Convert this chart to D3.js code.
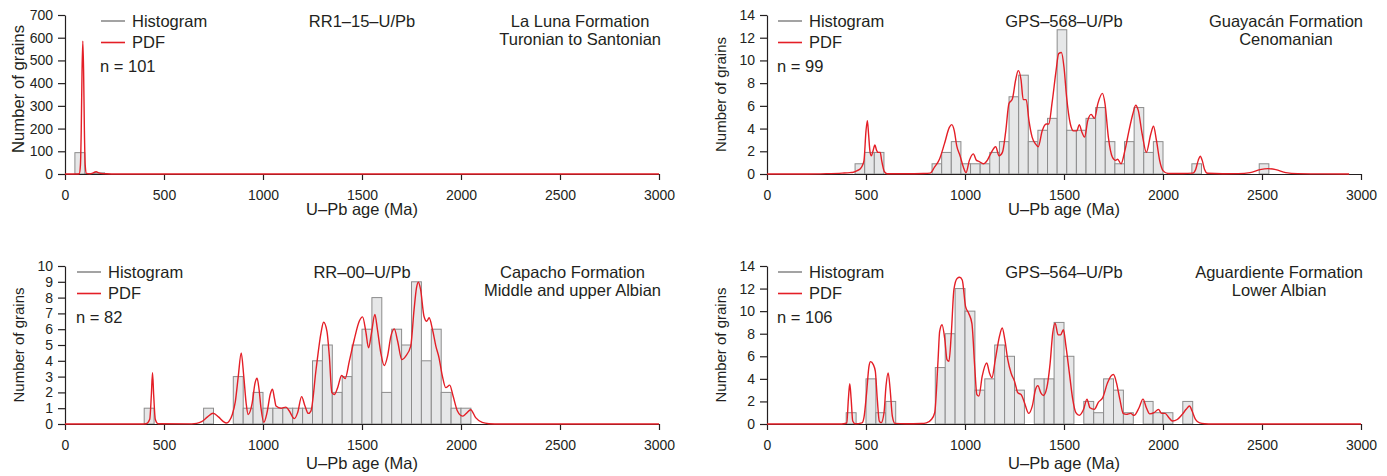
<!DOCTYPE html>
<html>
<head>
<meta charset="utf-8">
<script src="https://cdn.jsdelivr.net/npm/d3@7"></script>
<style>
body { margin: 0; background: #fff; }
text { font-family: "Liberation Sans", Arial, Helvetica, sans-serif; fill: #231f20; }
</style>
</head>
<body>
<script>
// age axis, shared by every panel
const ageTicks = [0, 500, 1000, 1500, 2000, 2500, 3000]

// RR1-15, La Luna Formation
const rr115Ticks = [0, 100, 200, 300, 400, 500, 600, 700]
const rr115BinStart = 50
const rr115BinWidth = 50
const rr115Counts = [94, 2, 5]
const rr115Pdf = [[0, 0], [60, 0], [72, 1], [78, 40], [82, 190], [86, 450], [90, 585], [94, 450], [98, 190], [102, 40], [108, 3],
    [125, 1], [140, 4], [152, 9], [158, 10], [166, 7], [180, 3], [210, 1], [260, 0], [3000, 0]]

// GPS-568, Guayacan Formation (bar heights as they sit on the printed axis)
const gps568Ticks = [0, 2, 4, 6, 8, 10, 12, 14]
const gps568BinStart = 444.8
const gps568BinWidth = 48.6
const gps568Counts = [0.9, 1.9, 1.9, 0, 0, 0, 0, 0, 0.9, 1.9, 2.85, 0.9, 0.9, 0.9, 1.9, 2.85, 6.8, 8.7, 2.85, 3.85, 4.9, 12.7,
    3.85, 3.85, 4.9, 5.85, 2.85, 0.9, 2.85, 5.85, 1.9, 2.85, 0, 0, 0, 0.9, 0, 0, 0, 0, 0, 0, 0.9]
const gps568Pdf = [[0, 0], [200, 0], [300, 0.03], [380, 0.08], [420, 0.12], [436, 0.15], [455, 0.3], [470, 0.44], [483, 0.8],
    [490, 1.2], [500, 3.8], [507, 4.7], [513, 3.5], [520, 2.0], [527, 1.6], [535, 2.0], [545, 2.55], [553, 2.1], [562, 1.9],
    [572, 1.9], [579, 1.2], [586, 0.6], [592, 0.24], [607, 0.02], [700, 0.02], [790, 0.04], [824, 0.08], [846, 0.6],
    [871, 1.3], [896, 2.65], [921, 4.1], [933, 4.35], [946, 3.8], [958, 2.5], [975, 1.6], [992, 0.6], [1005, 0.12],
    [1022, 1.2], [1042, 1.77], [1058, 1.2], [1072, 1.1], [1092, 0.9], [1114, 1.25], [1130, 1.8], [1155, 2.4], [1172, 1.6],
    [1189, 1.9], [1206, 3.8], [1222, 6.2], [1239, 6.6], [1256, 8.3], [1269, 9.1], [1283, 8.3], [1294, 6.55], [1309, 6.55],
    [1323, 4.7], [1339, 3.25], [1356, 2.65], [1370, 2.4], [1390, 3.8], [1410, 4.4], [1423, 4.4], [1440, 6.3], [1460, 9.1],
    [1473, 10.6], [1487, 10.7], [1500, 9.4], [1513, 6.8], [1532, 4.4], [1548, 3.8], [1565, 3.8], [1577, 4.35], [1590, 3.7],
    [1604, 3.25], [1620, 4.7], [1637, 5.25], [1654, 4.9], [1671, 6.2], [1694, 7.1], [1707, 6.2], [1724, 3.25], [1744, 1.5],
    [1761, 1.2], [1771, 1.3], [1788, 0.9], [1808, 2.1], [1828, 3.8], [1848, 5.3], [1862, 6.05], [1875, 5.6], [1895, 3.5],
    [1916, 1.9], [1938, 3.5], [1952, 4.2], [1967, 2.95], [1983, 1.2], [2000, 0.3], [2025, 0.05], [2100, 0.04], [2150, 0.08],
    [2165, 0.4], [2178, 1.2], [2188, 1.56], [2198, 1.2], [2210, 0.4], [2225, 0.06], [2300, 0.02], [2380, 0.03], [2440, 0.12],
    [2490, 0.38], [2530, 0.47], [2570, 0.38], [2620, 0.12], [2680, 0.03], [2800, 0.01], [2940, 0]]

// RR-00, Capacho Formation
const rr00Ticks = [0, 1, 2, 3, 4, 5, 6, 7, 8, 9, 10]
const rr00BinStart = 400
const rr00BinWidth = 50
const rr00Counts = [1, 0, 0, 0, 0, 0, 1, 0, 0, 3, 1, 2, 1, 1, 1, 1, 1, 4, 5, 2, 3, 5, 6, 8, 2, 6, 5, 9, 4, 6, 2, 1, 1]
const rr00Pdf = [[0, 0], [380, 0], [410, 0.02], [428, 0.3], [436, 1.8], [442, 3.25], [448, 1.8], [456, 0.3], [470, 0.02],
    [640, 0.01], [665, 0.04], [690, 0.15], [720, 0.45], [748, 0.68], [775, 0.45], [800, 0.15], [815, 0.06], [830, 0.2],
    [845, 0.6], [860, 1.4], [875, 3.0], [890, 4.5], [903, 3.0], [915, 1.3], [925, 0.6], [945, 1.3], [960, 2.6], [970, 2.9],
    [980, 2.2], [990, 1.0], [1004, 0.1], [1020, 0.7], [1037, 1.9], [1048, 2.2], [1058, 1.6], [1066, 1.14], [1091, 1.0],
    [1116, 1.07], [1133, 0.82], [1158, 0.34], [1175, 0.72], [1195, 1.73], [1212, 1.14], [1229, 0.67], [1242, 0.82],
    [1268, 3.45], [1293, 5.77], [1306, 6.44], [1323, 5.87], [1335, 4.3], [1348, 1.98], [1360, 1.87], [1377, 2.3],
    [1397, 3.07], [1415, 2.88], [1436, 3.98], [1461, 5.35], [1486, 6.5], [1503, 6.78], [1519, 5.87], [1533, 4.82],
    [1548, 5.77], [1565, 6.93], [1578, 5.98], [1595, 4.5], [1612, 3.7], [1629, 4.3], [1646, 5.56], [1663, 6.02], [1680, 5.24],
    [1701, 4.08], [1721, 4.3], [1746, 4.93], [1763, 7.24], [1775, 8.6], [1785, 8.97], [1796, 8.5], [1813, 6.82], [1827, 6.5],
    [1839, 6.72], [1856, 5.98], [1873, 4.93], [1889, 4.19], [1906, 3.03], [1923, 2.3], [1943, 2.46], [1960, 1.77],
    [1982, 0.82], [2007, 0.5], [2027, 0.67], [2049, 0.9], [2074, 0.4], [2107, 0.1], [2141, 0.02], [2200, 0], [3000, 0]]

// GPS-564, Aguardiente Formation
const gps564Ticks = [0, 2, 4, 6, 8, 10, 12, 14]
const gps564BinStart = 400
const gps564BinWidth = 50
const gps564Counts = [1, 0, 4, 1, 2, 0, 0, 0, 0, 5, 8, 12, 10, 3, 4, 7, 6, 3, 0, 4, 4, 9, 6, 0, 2, 1, 4, 3, 1, 0, 2, 1, 1, 0, 2]
const gps564Pdf = [[0, 0], [360, 0], [395, 0.05], [403, 0.1], [411, 2.2], [418, 3.56], [425, 2.2], [433, 0.26], [445, 0.02],
    [480, 0.1], [490, 0.6], [503, 2.76], [515, 5.1], [523, 5.53], [537, 5.26], [547, 4.68], [557, 2.2], [567, 0.26],
    [577, 0.12], [591, 1.0], [601, 3.35], [612, 4.53], [622, 3.06], [633, 0.7], [646, 0.06], [700, 0.02], [780, 0.04],
    [805, 0.1], [830, 0.4], [847, 1.0], [864, 5.7], [872, 8.2], [884, 8.8], [898, 7.5], [909, 5.7], [919, 5.56], [931, 8.06],
    [944, 11.9], [960, 12.9], [973, 13.0], [986, 12.76], [1003, 10.4], [1019, 9.8], [1035, 8.9], [1049, 5.1], [1060, 2.6],
    [1070, 2.47], [1087, 4.24], [1110, 5.4], [1124, 4.5], [1136, 4.1], [1153, 5.7], [1174, 7.76], [1188, 8.5], [1201, 7.5],
    [1216, 5.7], [1233, 4.5], [1250, 3.8], [1267, 2.76], [1284, 2.6], [1300, 1.9], [1322, 0.94], [1340, 1.6], [1356, 3.06],
    [1368, 3.4], [1383, 2.76], [1396, 2.53], [1413, 3.2], [1430, 5.4], [1443, 8.06], [1455, 8.94], [1470, 7.9], [1483, 7.9],
    [1497, 8.35], [1510, 6.88], [1527, 4.53], [1544, 2.2], [1560, 1.0], [1577, 0.76], [1599, 1.3], [1616, 2.2], [1631, 1.44],
    [1653, 1.3], [1674, 1.94], [1695, 2.32], [1720, 3.65], [1737, 4.24], [1750, 4.38], [1765, 3.65], [1782, 2.2], [1799, 0.94],
    [1815, 0.85], [1837, 0.94], [1854, 0.76], [1879, 1.44], [1899, 2.2], [1916, 1.44], [1933, 0.9], [1955, 1.0], [1977, 1.3],
    [1993, 0.94], [2010, 0.94], [2030, 0.56], [2047, 0.26], [2072, 0.4], [2097, 0.85], [2117, 1.3], [2134, 1.6], [2147, 1.15],
    [2164, 0.4], [2185, 0.1], [2210, 0.02], [2250, 0], [3000, 0]]

// layout of the four panels
var panels = [
    { name: "RR1–15–U/Pb", unit: ["La Luna Formation", "Turonian to Santonian"], n: 101,
      counts: rr115Counts, binStart: rr115BinStart, binWidth: rr115BinWidth, pdf: rr115Pdf, ticks: rr115Ticks,
      left: 65, top: 15, bottom: 174, legendDx: 36, nDx: 35, ylabSize: 16.7, ylabY: 89, xlabDy: 40.5 },
    { name: "GPS–568–U/Pb", unit: ["Guayacán Formation", "Cenomanian"], n: 99,
      counts: gps568Counts, binStart: gps568BinStart, binWidth: gps568BinWidth, pdf: gps568Pdf, ticks: gps568Ticks,
      left: 767, top: 15, bottom: 174, legendDx: 11, nDx: 10, ylabSize: 15, ylabY: 94.5, xlabDy: 40.5 },
    { name: "RR–00–U/Pb", unit: ["Capacho Formation", "Middle and upper Albian"], n: 82,
      counts: rr00Counts, binStart: rr00BinStart, binWidth: rr00BinWidth, pdf: rr00Pdf, ticks: rr00Ticks,
      left: 65, top: 266, bottom: 424, legendDx: 12, nDx: 11, ylabSize: 15, ylabY: 345, xlabDy: 45 },
    { name: "GPS–564–U/Pb", unit: ["Aguardiente Formation", "Lower Albian"], n: 106,
      counts: gps564Counts, binStart: gps564BinStart, binWidth: gps564BinWidth, pdf: gps564Pdf, ticks: gps564Ticks,
      left: 767, top: 266, bottom: 424, legendDx: 11, nDx: 10, ylabSize: 15, ylabY: 345, xlabDy: 45 }
]

var w = 1387
var h = 476
var red = "#e41e26"
var barStroke = "#8c8c8c"

var svg = d3.select("body")
            .append("svg")
            .attr("width", w)
            .attr("height", h)

panels.forEach(drawPanel)

function drawPanel(p) {
    const xScale = d3.scaleLinear()
        .domain([0, 3000])
        .range([p.left, p.left + 594])

    const yScale = d3.scaleLinear()
        .domain([0, p.ticks[p.ticks.length - 1]])
        .range([p.bottom, p.top])

    const g = svg.append("g")

    // histogram bars
    var bins = p.counts.map((c, i) => ({ age: p.binStart + i * p.binWidth, count: c }))
                       .filter(d => d.count > 0)
    g.selectAll("rect")
    .data(bins)
    .enter()
    .append("rect")
    .attr("x", d => xScale(d.age))
    .attr("y", d => yScale(d.count))
    .attr("width", d => xScale(d.age + p.binWidth) - xScale(d.age))
    .attr("height", d => yScale(0) - yScale(d.count))
    .attr("fill", "#e6e7e8")
    .attr("stroke", barStroke)
    .attr("stroke-width", 1)

    // axes
    const xAxis = d3.axisBottom(xScale).tickValues(ageTicks).tickFormat(d3.format("d"))
        .tickSize(6).tickSizeOuter(0).tickPadding(10)
    const gx = g.append("g")
    .attr("transform", "translate(0," + p.bottom + ")")
    .call(xAxis)

    const yAxis = d3.axisLeft(yScale).tickValues(p.ticks).tickFormat(d3.format("d"))
        .tickSize(7).tickSizeOuter(0).tickPadding(5)
    const gy = g.append("g")
    .attr("transform", "translate(" + p.left + ",0)")
    .call(yAxis)

    ;[gx, gy].forEach(a => {
        a.attr("font-family", null).attr("font-size", 14)
        a.selectAll("path, line").attr("stroke", "#231f20").attr("stroke-width", 1.2)
        a.selectAll("text").attr("fill", "#231f20")
    })

    // probability density curve
    const line = d3.line()
        .x(d => xScale(d[0]))
        .y(d => yScale(d[1]))
        .curve(d3.curveMonotoneX)
    g.append("path")
    .datum(p.pdf)
    .attr("d", line)
    .attr("fill", "none")
    .attr("stroke", red)
    .attr("stroke-width", 1.4)

    // axis titles
    g.append("text")
    .attr("x", xScale(1500))
    .attr("y", p.bottom + p.xlabDy)
    .attr("text-anchor", "middle")
    .attr("font-size", 16.5)
    .text("U–Pb age (Ma)")

    g.append("text")
    .attr("transform", "translate(" + (p.left - 41) + "," + p.ylabY + ") rotate(-90)")
    .attr("text-anchor", "middle")
    .attr("font-size", p.ylabSize)
    .text("Number of grains")

    // legend
    var lx = p.left + p.legendDx
    var legend = [["Histogram", barStroke, p.top + 6], ["PDF", red, p.top + 27.5]]
    legend.forEach(l => {
        g.append("line")
        .attr("x1", lx).attr("x2", lx + 24)
        .attr("y1", l[2]).attr("y2", l[2])
        .attr("stroke", l[1])
        .attr("stroke-width", 1.6)
        g.append("text")
        .attr("x", lx + 31)
        .attr("y", l[2] + 5.7)
        .attr("font-size", 16.5)
        .text(l[0])
    })

    g.append("text")
    .attr("x", p.left + p.nDx)
    .attr("y", p.top + 56.5)
    .attr("font-size", 16.5)
    .text("n = " + p.n)

    // sample name
    g.append("text")
    .attr("x", xScale(1500))
    .attr("y", p.top + 11.7)
    .attr("text-anchor", "middle")
    .attr("font-size", 16.5)
    .text(p.name)

    // formation and age, block flush with the end of the axis
    var unitText = p.unit.map((s, i) => g.append("text")
        .attr("y", p.top + 11.7 + i * 17.8)
        .attr("text-anchor", "middle")
        .attr("font-size", 16.5)
        .text(s))
    var widest = d3.max(unitText, t => t.node().getComputedTextLength())
    unitText.forEach(t => t.attr("x", xScale(3000) + 2 - widest / 2))
}
</script>
</body>
</html>
